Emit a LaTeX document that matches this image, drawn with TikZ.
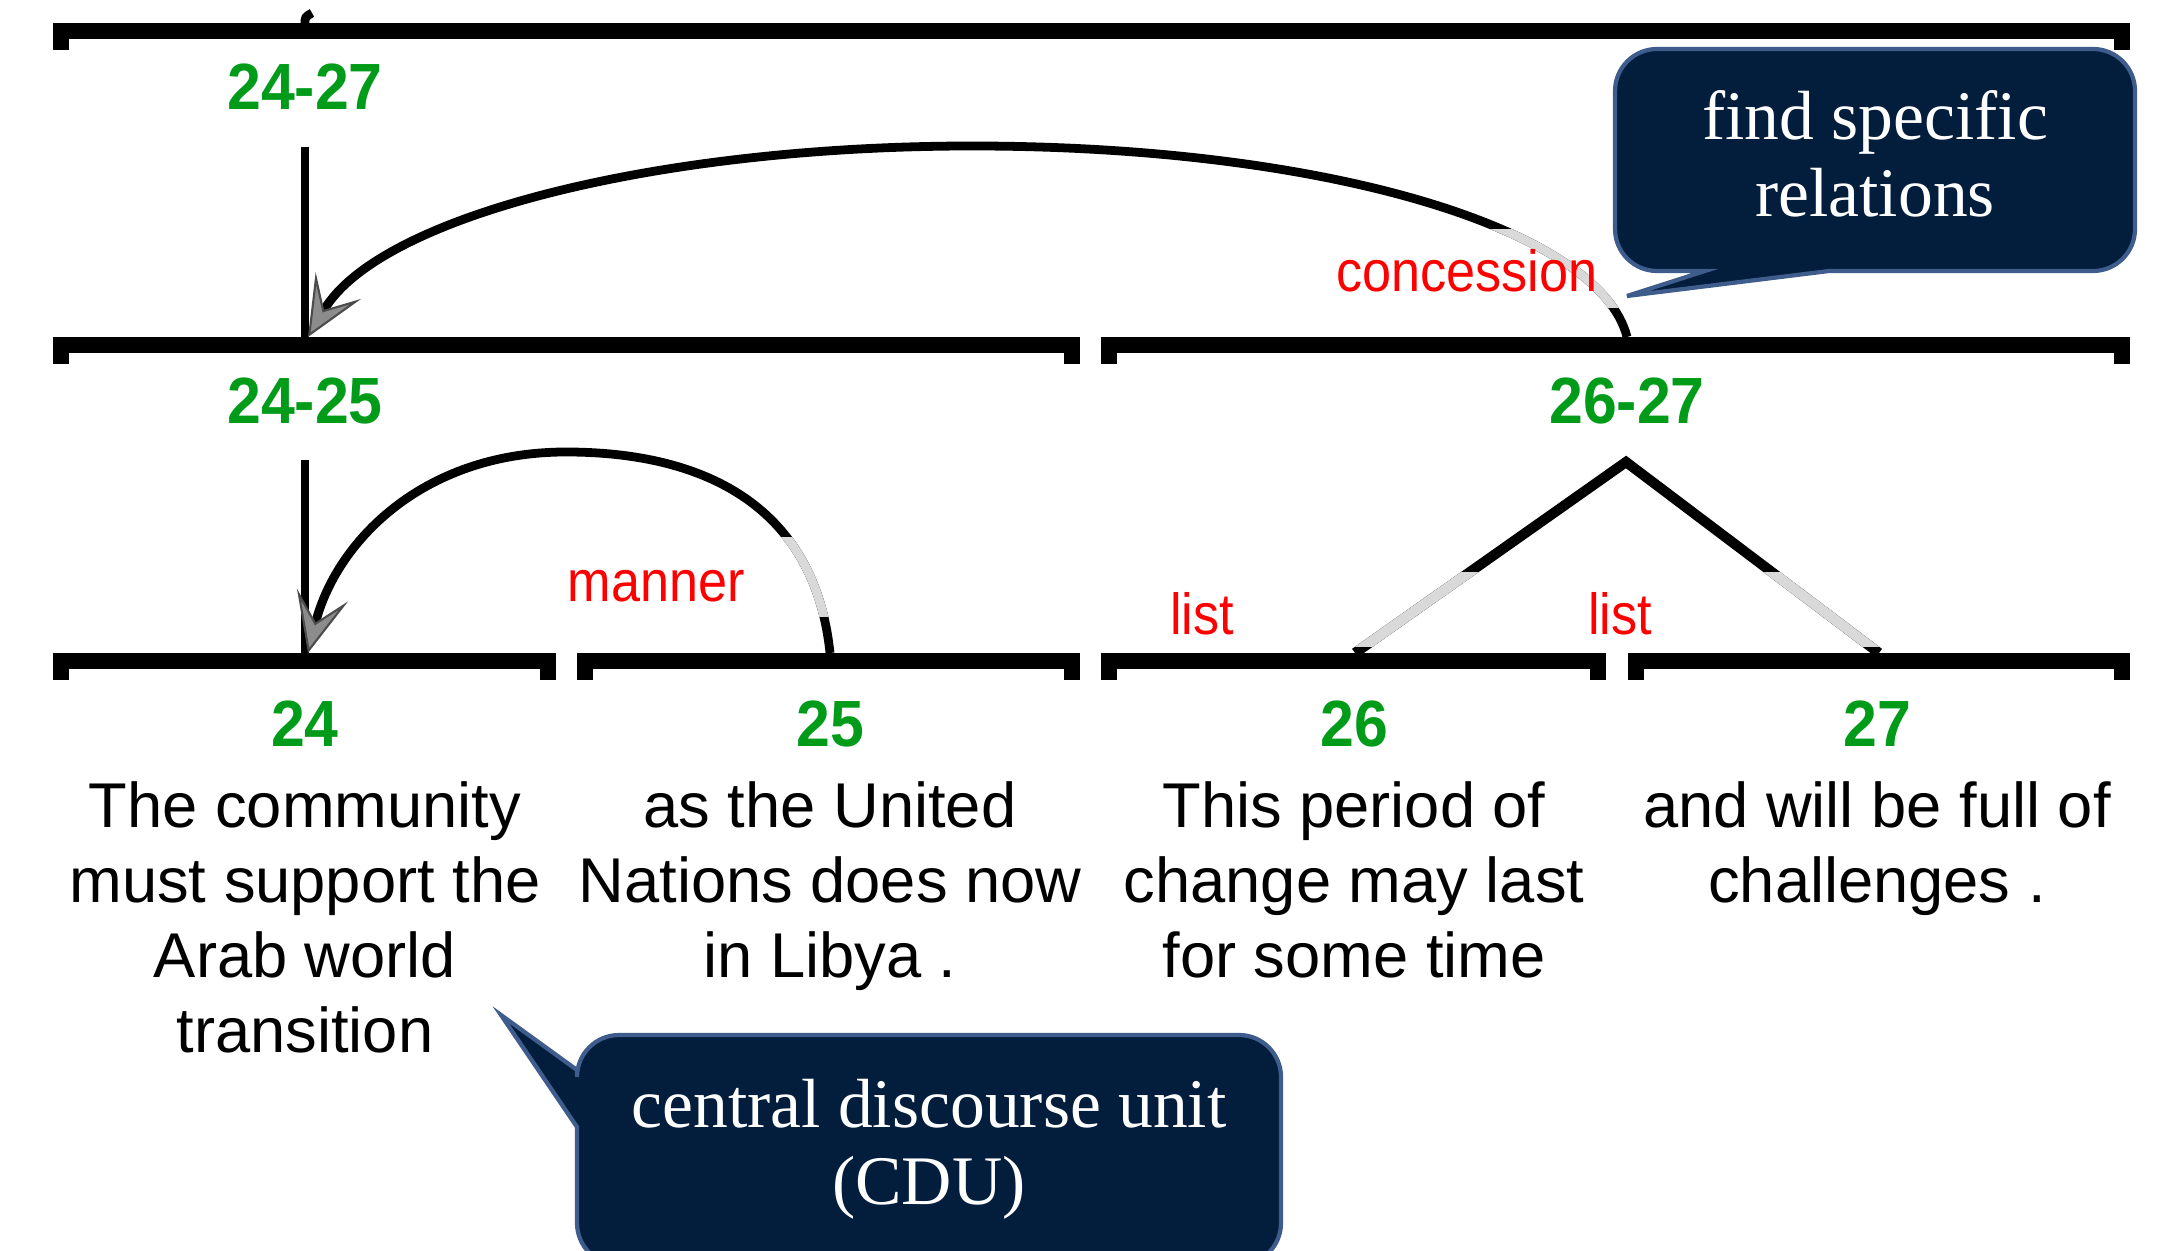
\documentclass[tikz,border=0pt]{standalone}
\usepackage{fontspec}
\usepackage{tikz}
\usetikzlibrary{arrows.meta}
\newfontfamily\arialfont{Liberation Sans}
\newfontfamily\spanfont[FakeStretch=0.93]{Liberation Sans}
\newfontfamily\relfont[FakeStretch=0.9]{Liberation Sans}
\newfontfamily\notefont{Liberation Serif}
\definecolor{spangreen}{RGB}{0,155,25}
\definecolor{calloutfill}{RGB}{3,29,60}
\definecolor{calloutedge}{RGB}{62,92,140}
\definecolor{fadegray}{RGB}{217,217,217}

\begin{document}
\begin{tikzpicture}[
    bar/.style={line width=0.16cm, line join=miter},
    relarc/.style={line width=2.5pt},
    arr/.style={-{Stealth[length=17pt,width=15pt,inset=8pt,fill=black!45,color=black!70,line width=0.6pt]}},
    spanlbl/.style={text=spangreen, font=\spanfont\bfseries\fontsize{18.6}{22}\selectfont, anchor=base, inner sep=0pt},
    rellbl/.style={text=red, font=\relfont\fontsize{16.5}{20}\selectfont, anchor=base, inner sep=0pt},
    edutxt/.style={font=\arialfont\fontsize{18}{21.3}\selectfont, align=center, anchor=north, inner sep=0pt},
    callout/.style={fill=calloutfill, draw=calloutedge, line width=1.2pt},
    callouttxt/.style={text=white, font=\notefont\fontsize{19.8}{21.8}\selectfont, align=center, anchor=north, inner sep=0pt}
]
    \useasboundingbox (0,0) rectangle (21.77,-12.51);
    \clip (0,0) rectangle (21.77,-12.51);

    % --- bars ---
    \draw[bar] (0.61,-0.50) -- (0.61,-0.31) -- (21.22,-0.31) -- (21.22,-0.50);

    \draw[bar] (0.61,-3.64) -- (0.61,-3.45) -- (10.72,-3.45) -- (10.72,-3.64);
    \draw[bar] (11.09,-3.64) -- (11.09,-3.45) -- (21.22,-3.45) -- (21.22,-3.64);

    \draw[bar] (0.61,-6.80) -- (0.61,-6.61) -- (5.48,-6.61) -- (5.48,-6.80);
    \draw[bar] (5.85,-6.80) -- (5.85,-6.61) -- (10.72,-6.61) -- (10.72,-6.80);
    \draw[bar] (11.09,-6.80) -- (11.09,-6.61) -- (15.98,-6.61) -- (15.98,-6.80);
    \draw[bar] (16.36,-6.80) -- (16.36,-6.61) -- (21.22,-6.61) -- (21.22,-6.80);

    % --- attachment points ---
    \coordinate (top24) at (3.05,-0.24);
    \coordinate (v2427) at (3.05,-1.47);
    \coordinate (s24a) at (3.08,-3.37);
    \coordinate (m24a) at (3.05,-3.38);
    \coordinate (s2627) at (16.27,-3.37);
    \coordinate (v2425) at (3.05,-4.60);
    \coordinate (s24b) at (3.08,-6.53);
    \coordinate (m24b) at (3.05,-6.54);
    \coordinate (s25) at (8.30,-6.53);
    \coordinate (apex) at (16.26,-4.62);
    \coordinate (f26) at (13.55,-6.53);
    \coordinate (f27) at (18.79,-6.53);

    % --- span labels ---
    \node[spanlbl] (l2427) at (3.05,-1.10) {24-27};
    \node[spanlbl] (l2425) at (3.05,-4.24) {24-25};
    \node[spanlbl] (l2627) at (16.27,-4.24) {26-27};
    \node[spanlbl] (l24) at (3.05,-7.47) {24};
    \node[spanlbl] (l25) at (8.30,-7.47) {25};
    \node[spanlbl] (l26) at (13.54,-7.47) {26};
    \node[spanlbl] (l27) at (18.77,-7.47) {27};

    % --- nucleus lines ---
    \draw[relarc] (top24) .. controls (3.05,-0.17) .. (3.12,-0.13);
    \draw[relarc] (v2427) -- (m24a);
    \draw[relarc] (v2425) -- (m24b);

    % concession: 26-27 -> 24-25
    \draw[relarc, arr] (s2627) .. controls (16.00,-2.30) and (13.30,-1.46) .. (9.72,-1.46)
        .. controls (6.60,-1.46) and (3.80,-2.15) .. (s24a);
    \begin{scope}
        \clip (14.5,-2.30) rectangle (17,-3.08);
        \draw[relarc, fadegray] (s2627) .. controls (16.00,-2.30) and (13.30,-1.46) .. (9.72,-1.46);
    \end{scope}
    \node[rellbl] (rconc) at (14.67,-2.92) {concession};

    % manner: 25 -> 24
    \draw[relarc, arr] (s25) .. controls (8.15,-5.10) and (7.10,-4.52) .. (5.66,-4.52)
        .. controls (4.20,-4.52) and (3.35,-5.45) .. (s24b);
    \begin{scope}
        \clip (7.0,-5.38) rectangle (9,-6.17);
        \draw[relarc, fadegray] (s25) .. controls (8.15,-5.10) and (7.10,-4.52) .. (5.66,-4.52);
    \end{scope}
    \node[rellbl] (rmanner) at (6.56,-6.02) {manner};

    % list: 26 + 27
    \draw[line width=2.9pt] (f26) -- (apex) -- (f27);
    \begin{scope}
        \clip (13,-5.73) rectangle (19.5,-6.47);
        \draw[line width=2.9pt, fadegray] (f26) -- (apex) -- (f27);
    \end{scope}
    \node[rellbl] (rlist1) at (12.02,-6.35) {list};
    \node[rellbl] (rlist2) at (16.20,-6.35) {list};

    % --- EDU texts ---
    \node[edutxt] (t24) at (3.05,-7.81) {The community\\must support the\\Arab world\\transition};
    \node[edutxt] (t25) at (8.30,-7.81) {as the United\\Nations does now\\in Libya .};
    \node[edutxt] (t26) at (13.54,-7.81) {This period of\\change may last\\for some time};
    \node[edutxt] (t27) at (18.77,-7.81) {and will be full of\\challenges .};

    % --- callouts ---
    \draw[callout] (17.05,-2.71) -- (16.27,-2.96) -- (18.29,-2.71) [rounded corners=0.42cm]
        -- (21.35,-2.71) -- (21.35,-0.49) -- (16.15,-0.49) -- (16.15,-2.71) [sharp corners] -- cycle;
    \node[callouttxt] (cfind) at (18.75,-0.90) {find specific\\relations};

    \draw[callout] (5.77,-10.70) -- (5.01,-10.15) -- (5.77,-11.27) [rounded corners=0.42cm]
        -- (5.77,-12.65) -- (12.81,-12.65) -- (12.81,-10.35) -- (5.77,-10.35) [sharp corners] -- cycle;
    \node[callouttxt] (ccdu) at (9.29,-10.79) {central discourse unit\\(CDU)};
\end{tikzpicture}
\end{document}
